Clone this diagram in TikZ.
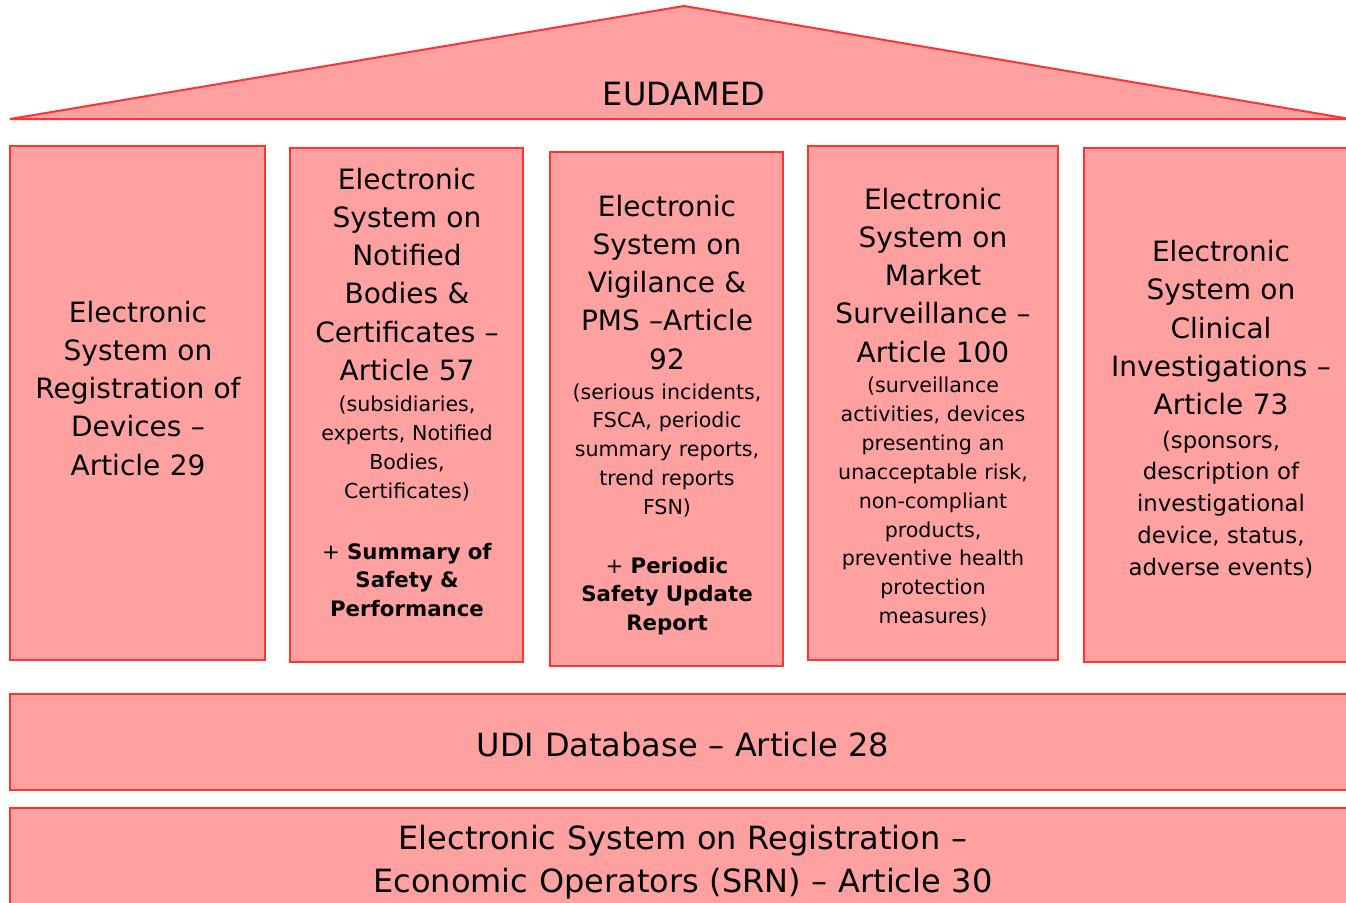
\documentclass[tikz,border=0pt]{standalone}
\usepackage{fontspec}
\setmainfont{DejaVu Sans}
\definecolor{boxfill}{HTML}{FFA1A1}
\definecolor{boxline}{HTML}{FF3333}
\begin{document}
\begin{tikzpicture}[x=1pt,y=-1pt,
  panel/.style={draw=boxline, fill=boxfill, line width=2pt, inner sep=0pt, outer sep=0pt},
  txt/.style={anchor=base, align=center, text width=320pt, inner sep=0pt, text=black},
  maintxt/.style={txt, font=\fontsize{28}{38.3}\selectfont},
  smalltxt/.style={txt, font=\fontsize{20.6}{28.9}\selectfont},
  bigsmalltxt/.style={txt, font=\fontsize{22.8}{31.8}\selectfont},
  boldtxt/.style={txt, font=\fontsize{21.3}{28.5}\selectfont},
  titletxt/.style={txt, text width=1300pt, font=\fontsize{32}{43}\selectfont}]
\useasboundingbox (0,0) rectangle (1346,902);
\clip (0,0) rectangle (1346,902);
% roof
\draw[panel] (10,119) -- (684,6) -- (1350,119) -- cycle;
\node[titletxt] (eudamed) at (684,105) {EUDAMED};
% pillars
\node[panel, minimum width=255, minimum height=514] (b1) at (137.5,403) {};
\node[panel, minimum width=233, minimum height=514] (b2) at (406.5,405) {};
\node[panel, minimum width=233, minimum height=514] (b3) at (666.5,409) {};
\node[panel, minimum width=250, minimum height=514] (b4) at (933,403) {};
\node[panel, minimum width=270, minimum height=514] (b5) at (1219,405) {};
% bases
\node[panel, minimum width=1344, minimum height=96] (udi) at (682,742) {};
\node[panel, minimum width=1344, minimum height=110] (srn) at (682,863) {};
% texts
\node[maintxt] (t1) at (138,322) {Electronic\\System on\\Registration of\\Devices –\\Article 29};

\node[maintxt] (t2) at (407,189) {Electronic\\System on\\Notified\\Bodies \&\\Certificates –\\Article 57};
\node[smalltxt] (s2) at (407,411.5) {(subsidiaries,\\experts, Notified\\Bodies,\\Certificates)};
\node[boldtxt] (p2) at (407,559) {+ \textbf{Summary of}\\\textbf{Safety \&}\\\textbf{Performance}};

\node[maintxt] (t3) at (667,216) {Electronic\\System on\\Vigilance \&\\PMS –Article\\92};
\node[smalltxt] (s3) at (667,399) {(serious incidents,\\FSCA, periodic\\summary reports,\\trend reports\\FSN)};
\node[boldtxt] (p3) at (667,573) {+ \textbf{Periodic}\\\textbf{Safety Update}\\\textbf{Report}};

\node[maintxt] (t4) at (933,209) {Electronic\\System on\\Market\\Surveillance –\\Article 100};
\node[smalltxt] (s4) at (933,392.5) {(surveillance\\activities, devices\\presenting an\\unacceptable risk,\\non-compliant\\products,\\preventive health\\protection\\measures)};

\node[maintxt] (t5) at (1221,261.5) {Electronic\\System on\\Clinical\\Investigations –\\Article 73};
\node[bigsmalltxt] (s5) at (1221,448) {(sponsors,\\description of\\investigational\\device, status,\\adverse events)};

\node[titletxt] (tudi) at (683,756) {UDI Database – Article 28};
\node[titletxt] (tsrn) at (683,849) {Electronic System on Registration –\\Economic Operators (SRN) – Article 30};
\end{tikzpicture}
\end{document}
